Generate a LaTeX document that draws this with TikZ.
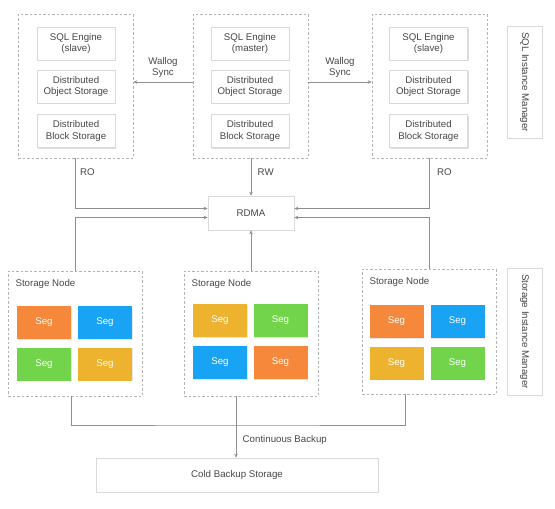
\documentclass[tikz,border=0pt]{standalone}
\usepackage{fontspec}
\setmainfont{Liberation Sans}
\usepackage{xcolor}
\usetikzlibrary{arrows.meta,shadows}
\definecolor{segorange}{HTML}{F5883A}
\definecolor{segblue}{HTML}{19A3F5}
\definecolor{seggreen}{HTML}{72D44A}
\definecolor{segyellow}{HTML}{EDB22E}
\definecolor{linegray}{HTML}{8E8E8E}
\definecolor{boxgray}{HTML}{D9D9D9}
\definecolor{txtgray}{HTML}{474747}

\begin{document}
\begin{tikzpicture}[x=1pt,y=-1pt,
  font=\fontsize{9.7}{11.2}\selectfont, text=txtgray,
  >={Stealth[length=4pt,width=3.5pt]},
  grp/.style={draw=black!30, dash pattern=on 2.5pt off 2pt, line width=0.6pt, minimum width=115pt, minimum height=144pt},
  part/.style={draw=boxgray, fill=white, line width=0.6pt, align=center, inner sep=1pt, minimum width=78pt, minimum height=33pt,
    drop shadow={shadow xshift=1pt, shadow yshift=-1pt, opacity=0.25}},
  seg/.style={fill=#1, draw=none, text=white, minimum width=54pt, minimum height=33pt,
    drop shadow={shadow xshift=0.6pt, shadow yshift=-0.8pt, opacity=0.2}},
  conn/.style={draw=linegray, line width=0.8pt}]
\useasboundingbox (0,0) rectangle (555,509);

% SQL side
\node[grp] (sqlL) at (75.5,86) {};
\node[grp] (sqlM) at (250.5,86) {};
\node[grp] (sqlR) at (429.5,86) {};
\node[part] (engL) at (76,43.5) {SQL Engine\\(slave)};
\node[part] (objL) at (76,86.5) {Distributed\\Object Storage};
\node[part] (blkL) at (76,131) {Distributed\\Block Storage};
\node[part] (engM) at (250,43.5) {SQL Engine\\(master)};
\node[part] (objM) at (250,86.5) {Distributed\\Object Storage};
\node[part] (blkM) at (250,131) {Distributed\\Block Storage};
\node[part] (engR) at (428.5,43.5) {SQL Engine\\(slave)};
\node[part] (objR) at (428.5,86.5) {Distributed\\Object Storage};
\node[part] (blkR) at (428.5,131) {Distributed\\Block Storage};
\node[part,rotate=-90,minimum width=112pt,minimum height=35pt] (sqlmgr) at (524.5,82) {SQL Instance Manager};

\node[part,minimum width=86pt,minimum height=34pt] (rdma) at (251,213) {RDMA};

% storage side
\node[grp,minimum width=134pt,minimum height=125pt] (snL) at (75,333.5) {};
\node[grp,minimum width=134pt,minimum height=125pt] (snM) at (251,333.5) {};
\node[grp,minimum width=134pt,minimum height=125pt] (snR) at (429,331.5) {};
\node[anchor=west] (snLt) at (12,284) {Storage Node};
\node[anchor=west] (snMt) at (188,284) {Storage Node};
\node[anchor=west] (snRt) at (366,282) {Storage Node};
\node[seg=segorange] (segL1) at (44,322.5) {Seg};
\node[seg=segblue] (segL2) at (105,322.5) {Seg};
\node[seg=seggreen] (segL3) at (44,364) {Seg};
\node[seg=segyellow] (segL4) at (105,364) {Seg};
\node[seg=segyellow] (segM1) at (220,320.5) {Seg};
\node[seg=seggreen] (segM2) at (280.5,320.5) {Seg};
\node[seg=segblue] (segM3) at (220,362.5) {Seg};
\node[seg=segorange] (segM4) at (280.5,362.5) {Seg};
\node[seg=segorange] (segR1) at (396.5,321.5) {Seg};
\node[seg=segblue] (segR2) at (457.5,321.5) {Seg};
\node[seg=segyellow] (segR3) at (396.5,363) {Seg};
\node[seg=seggreen] (segR4) at (457.5,363) {Seg};
\node[part,rotate=-90,minimum width=127pt,minimum height=35pt] (stmgr) at (524.5,331.5) {Storage Instance Manager};

\node[part,minimum width=282pt,minimum height=34pt] (cold) at (237,475) {Cold Backup Storage};
\coordinate (bk) at (236,425);

% connectors
\draw[conn,->] ([yshift=4pt]sqlM.west) -- node[above=1pt,align=center] {Wallog\\Sync} ([yshift=4pt]sqlL.east);
\draw[conn,->] ([yshift=4pt]sqlM.east) -- node[above=1pt,align=center] {Wallog\\Sync} ([yshift=4pt]sqlR.west);
\draw[conn,->] (sqlL.south) |- node[pos=0.14,right=1pt] {RO} ([yshift=4.5pt]rdma.west);
\draw[conn,->] (snL.north) |- ([yshift=-4.5pt]rdma.west);
\draw[conn,->] (rdma.north |- sqlM.south) -- node[pos=0.37,right=3pt] {RW} (rdma.north);
\draw[conn,->] (snM.north) -- (rdma.south);
\draw[conn,->] (sqlR.south) |- node[pos=0.14,right=4pt] {RO} ([yshift=4.5pt]rdma.east);
\draw[conn,->] (snR.north) |- ([yshift=-4.5pt]rdma.east);
\draw[conn] ([xshift=-4pt]snL.south) |- (bk) -| ([xshift=-24pt]snR.south);
\draw[conn,->] (snM.south -| bk) -- node[pos=0.71,right=3pt] {Continuous Backup} (bk |- cold.north);
\end{tikzpicture}
\end{document}
